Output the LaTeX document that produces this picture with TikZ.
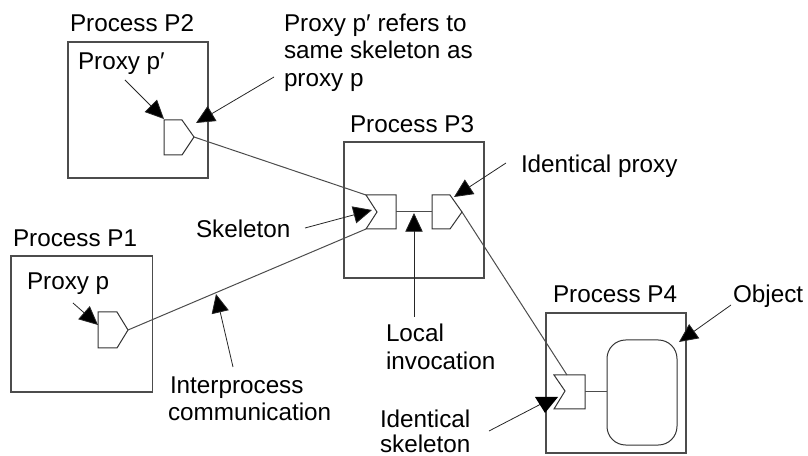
\documentclass[tikz,border=0pt]{standalone}
\usepackage{fontspec}
\setmainfont{Liberation Sans}
\usetikzlibrary{arrows.meta}
\begin{document}
\begin{tikzpicture}[x=0.75pt,y=-0.75pt,
  every node/.style={inner sep=0pt,outer sep=0pt},
  procbox/.style={draw=black!70,line width=0.85pt,minimum width=105pt,minimum height=102pt,anchor=north west},
  comp/.style={draw=black!80,line width=0.75pt,line join=miter},
  wire/.style={draw=black!70,line width=0.75pt},
  callline/.style={draw=black!85,line width=0.6pt},
  callout/.style={callline,-{Triangle[length=14pt,width=13pt,fill=black]}},
  lab/.style={font=\fontsize{18.2}{20.8}\selectfont,anchor=base west,align=left}]
\useasboundingbox (0,0) rectangle (808,456);
% process boxes
\node[procbox] (p2) at (68,42) {};
\node[procbox] (p3) at (344,142) {};
\node[procbox,minimum width=106pt] (p1) at (11,256) {};
\node[procbox,minimum height=105pt] (p4) at (546,313) {};
\node[lab] (t2) at (70,32) {Process P2};
\node[lab] (t3) at (350,133) {Process P3};
\node[lab] (t1) at (13,247) {Process P1};
\node[lab] (t4) at (553,303) {Process P4};
% proxies / skeletons
\coordinate (p2tip) at (194,137);
\coordinate (p1tip) at (128,330);
\coordinate (p3tip) at (462,212);
\coordinate (skta) at (366,195);
\coordinate (sktb) at (366,229);
\coordinate (sk4top) at (567,375);
\draw[comp] (164,120) -- (182,120) -- (p2tip) -- (182,155) -- (164,155) -- cycle;
\draw[comp] (98,312) -- (117,312) -- (p1tip) -- (117,348) -- (98,348) -- cycle;
\draw[comp] (432,195) -- (450,195) -- (p3tip) -- (450,229) -- (432,229) -- cycle;
\draw[comp] (skta) -- (396,195) -- (396,229) -- (sktb) -- (377,212) -- cycle;
\draw[comp] (554,375) -- (585,375) -- (585,409) -- (554,409) -- (565,391) -- cycle;
\node[draw=black!80,line width=0.75pt,rounded corners=14pt,minimum width=52.5pt,minimum height=78.75pt,anchor=north west] (obj) at (607,340) {};
% connectors
\draw[wire] (p2tip) -- (skta);
\draw[wire] (p1tip) -- (sktb);
\draw[wire] (396,212) -- (432,212);
\draw[wire] (p3tip) -- (sk4top);
\draw[wire] (585,392) -- (obj.west |- 0,392);
% labels
\node[lab] (lpp) at (78,70) {Proxy p′};
\node[lab] (lp) at (27,290) {Proxy p};
\node[lab] (lref1) at (284,32) {Proxy p′ refers to};
\node[lab] (lref2) at (284,59) {same skeleton as};
\node[lab] (lref3) at (284,87) {proxy p};
\node[lab] (lid) at (521,173) {Identical proxy};
\node[lab] (lsk) at (196,238) {Skeleton};
\node[lab] (lloc1) at (386,342) {Local};
\node[lab] (lloc2) at (386,369) {invocation};
\node[lab] (lint1) at (170,393) {Interprocess};
\node[lab] (lint2) at (168,421) {communication};
\node[lab] (lids1) at (380,427) {Identical};
\node[lab] (lids2) at (380,452) {skeleton};
\node[lab] (lobj) at (733,303) {Object};
% callouts
\coordinate (a1) at (125,80); \coordinate (a1e) at (164,119);
\coordinate (a2) at (274,77); \coordinate (a2e) at (196,123);
\coordinate (a3) at (73,303); \coordinate (a3e) at (98,325);
\coordinate (a4) at (506,163); \coordinate (a4e) at (454,197);
\coordinate (a5) at (305,228); \coordinate (a5e) at (372,210);
\coordinate (a6) at (414,317); \coordinate (a6e) at (414,213);
\coordinate (a7) at (233,367); \coordinate (a7e) at (216,294);
\coordinate (a9) at (731,305); \coordinate (a9e) at (679,342);
\foreach \s/\e in {a1/a1e,a2/a2e,a3/a3e,a4/a4e,a5/a5e,a6/a6e,a7/a7e,a9/a9e}
  \draw[callout] (\s) -- (\e);
% the head on the identical-skeleton callout is skewed
\coordinate (a8) at (489,431); \coordinate (a8e) at (545,413);
\draw[callline] (a8) -- (541,404);
\fill[black] (535,397) -- (558,397) -- (a8e) -- cycle;
\end{tikzpicture}
\end{document}
